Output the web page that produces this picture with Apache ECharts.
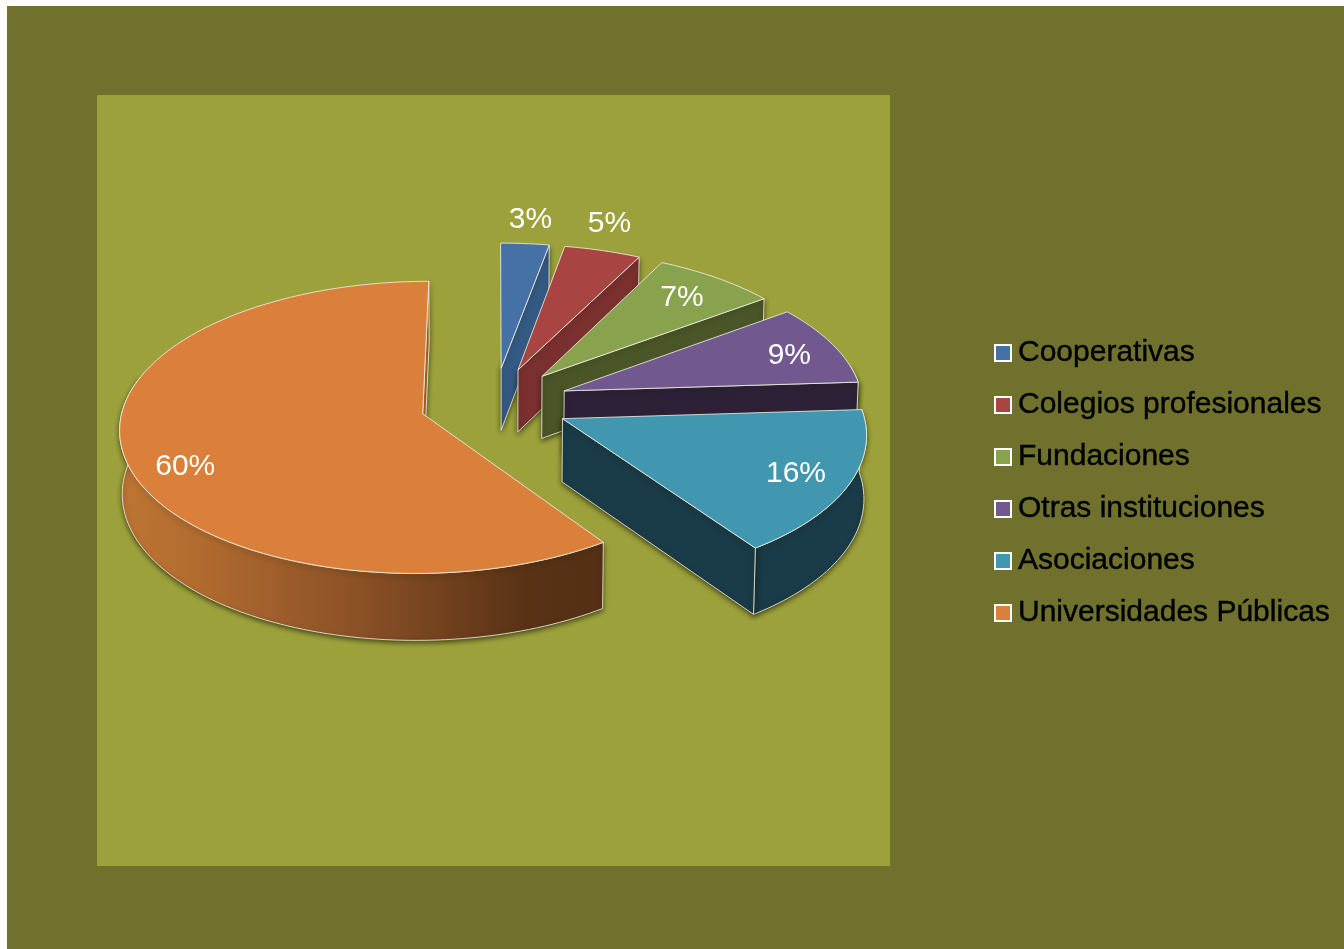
<!DOCTYPE html>
<html>
<head>
<meta charset="utf-8">
<style>
    html, body { margin: 0; padding: 0; background: #fefdfb; }
    #chart { width: 1344px; height: 949px; }
</style>
<script src="https://cdn.jsdelivr.net/npm/echarts@6/dist/echarts.min.js"></script>
</head>
<body>
<div id="chart"></div>
<script>
// 数据
const categories = ['Cooperativas', 'Colegios profesionales', 'Fundaciones', 'Otras instituciones', 'Asociaciones', 'Universidades Públicas'];
const values = [2.9, 4.6, 7.4, 9.1, 16.3, 59.7];
const topColors = ['#4571a6', '#a84442', '#88a24d', '#71588f', '#4097af', '#da803b'];
const wallColors = ['#345a84', '#7a302f', '#4a5628', '#2d2138', '#1a3b48', '#b36c30'];
// 标签位置（相对扇区的角度和半径）
const labelAngles = [5.3, 16.5, 39.8, 70.8, 115.5, 245.6];
const labelRadius = [1.23, 1.25, 0.8, 0.83, 0.82, 0.83];

// 透视参数
const originX = 494.5, originY = 403;
const radiusX = 299, radiusY = 142.8;
const perspective = 0.0924;
const explode = 0.25;
const startAngle = 0;

const lineColor = 'rgba(236,236,226,0.85)';
const total = values.reduce((a, b) => a + b, 0);

function dir(deg) {
    const r = deg * Math.PI / 180;
    return [Math.sin(r), -Math.cos(r)];
}

// 圆盘坐标转屏幕坐标
function project(u, v) {
    const s = 1 / (1 - perspective * v);
    return [originX + radiusX * u * s, originY + radiusY * v * s];
}

// 顶面点转底面点
function drop(p) {
    return [originX + (p[0] - originX) * 0.993, p[1] + 62 + (p[1] - 368) * 0.024];
}

function sliceAngles(index) {
    let from = startAngle;
    for (let i = 0; i < index; i++) from += values[i] / total * 360;
    return [from, from + values[index] / total * 360];
}

function arcPoints(center, from, to) {
    const pts = [];
    const steps = Math.max(2, Math.ceil((to - from) / 1.5));
    for (let i = 0; i <= steps; i++) {
        const d = dir(from + (to - from) * i / steps);
        pts.push(project(center[0] + d[0], center[1] + d[1]));
    }
    return pts;
}

function renderSlice(index) {
    const angles = sliceAngles(index);
    const from = angles[0], to = angles[1];
    const mid = dir((from + to) / 2);
    const center = [mid[0] * explode, mid[1] * explode];
    const apex = project(center[0], center[1]);
    const children = [];
    const shadow = { shadowColor: 'rgba(30,30,0,0.7)', shadowBlur: 5, shadowOffsetX: 0, shadowOffsetY: 2 };

    // 外侧面
    const wallFrom = Math.max(from, 80), wallTo = Math.min(to, 285);
    if (wallTo > wallFrom) {
        const arc = arcPoints(center, wallFrom, wallTo);
        const isMain = index === values.length - 1;
        children.push({
            type: 'polygon',
            shape: { points: arc.concat(arc.map(drop).reverse()) },
            style: Object.assign({
                fill: isMain ? {
                    type: 'linear', x: 1, y: 0, x2: 0, y2: 0,
                    colorStops: [
                        { offset: 0, color: '#553015' },
                        { offset: 0.16, color: '#593216' },
                        { offset: 0.5, color: '#8a5026' },
                        { offset: 0.85, color: '#b36c30' },
                        { offset: 1, color: '#be7533' }
                    ]
                } : wallColors[index],
                stroke: lineColor,
                lineWidth: 1
            }, shadow)
        });
    }

    // 径向侧面
    const endDir = dir(to);
    const rim = project(center[0] + endDir[0], center[1] + endDir[1]);
    children.push({
        type: 'polygon',
        shape: { points: [apex, rim, drop(rim), drop(apex)] },
        style: Object.assign({ fill: wallColors[index], stroke: lineColor, lineWidth: 1 }, shadow)
    });

    // 顶面
    children.push({
        type: 'polygon',
        shape: { points: [apex].concat(arcPoints(center, from, to)) },
        style: { fill: topColors[index], stroke: lineColor, lineWidth: 1 }
    });

    // 百分比标签
    const ld = dir(labelAngles[index]);
    const lp = project(center[0] + ld[0] * labelRadius[index], center[1] + ld[1] * labelRadius[index]);
    children.push({
        type: 'text',
        style: {
            text: Math.round(values[index]) + '%',
            x: lp[0],
            y: lp[1] + 2,
            fill: '#ffffff',
            font: '30px "Liberation Sans", Arial, sans-serif',
            align: 'center',
            verticalAlign: 'middle'
        }
    });
    return { type: 'group', children: children };
}

const myChart = echarts.init(document.getElementById('chart'));
myChart.setOption({
    animation: false,
    graphic: [
        { type: 'rect', z: 0, shape: { x: 7, y: 6, width: 1337, height: 943 }, style: { fill: '#70712c' } },
        { type: 'rect', z: 0, shape: { x: 97, y: 95, width: 793, height: 771 }, style: { fill: '#9ca13c' } }
    ],
    legend: {
        orient: 'vertical',
        left: 989,
        top: 331,
        itemWidth: 16,
        itemHeight: 16,
        itemGap: 18,
        icon: 'rect',
        itemStyle: { borderColor: '#ffffff', borderWidth: 2 },
        textStyle: {
            color: '#000000',
            fontFamily: '"Liberation Sans", Arial, sans-serif',
            fontSize: 30,
            lineHeight: 34,
            padding: [0, 0, 0, 2],
            textBorderColor: '#000000',
            textBorderWidth: 0.4
        },
        data: categories
    },
    series: categories.map((name, index) => ({
        name: name,
        type: 'custom',
        coordinateSystem: 'none',
        silent: true,
        itemStyle: { color: topColors[index] },
        data: [values[index]],
        renderItem: () => renderSlice(index)
    }))
});
</script>
</body>
</html>
